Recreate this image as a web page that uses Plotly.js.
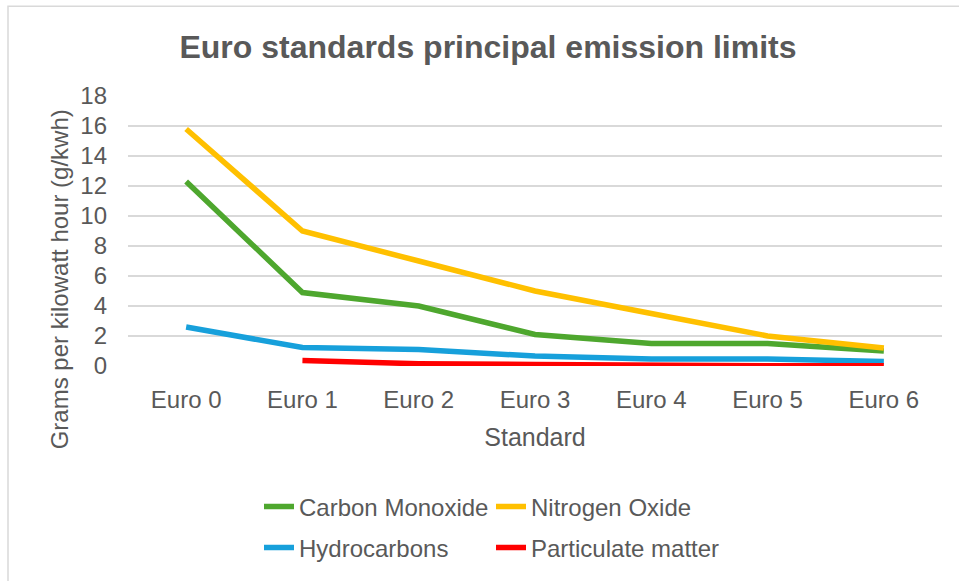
<!DOCTYPE html>
<html>
<head>
<meta charset="utf-8">
<script src="https://cdn.plot.ly/plotly-3.0.1.min.js"></script>
<style>
html,body{margin:0;padding:0;background:#fff;}
#chart{width:959px;height:581px;}
</style>
</head>
<body>
<div id="chart"></div>
<script>
const categories = ["Euro 0","Euro 1","Euro 2","Euro 3","Euro 4","Euro 5","Euro 6"];
const carbonMonoxide = [12.3, 4.9, 4.0, 2.1, 1.5, 1.5, 1.0];
const nitrogenOxide = [15.8, 9.0, 7.0, 5.0, 3.5, 2.0, 1.2];
const hydrocarbons = [2.6, 1.23, 1.1, 0.66, 0.46, 0.46, 0.3];
const particulateMatter = [null, 0.36, 0.15, 0.1, 0.02, 0.02, 0.01];
const yTicks = [0,2,4,6,8,10,12,14,16,18];

const fontFam = "Liberation Sans, Arial, sans-serif";
const textCol = "#595959";

function tr(name, y, color, legend){
  return {type:"scatter", mode:"lines", name:name, x:categories, y:y,
    line:{color:color, width:5.5, shape:"linear"}, legend:legend,
    connectgaps:false, hoverinfo:"skip"};
}
const data = [
  tr("Carbon Monoxide", carbonMonoxide, "#4ea72e", "legend"),
  tr("Nitrogen Oxide", nitrogenOxide, "#ffc000", "legend"),
  tr("Hydrocarbons", hydrocarbons, "#17a0db", "legend2"),
  tr("Particulate matter", particulateMatter, "#ff0000", "legend2")
];
const L = 128, R = 17, T = 96, B = 214;
const pw = 959 - L - R, ph = 581 - T - B;
function px(x){ return (x - L)/pw; }
function py(y){ return (581 - B - y)/ph; }

const fs = 24;
const legendCommon = {orientation:"h", font:{family:fontFam, size:fs, color:textCol},
  bgcolor:"rgba(0,0,0,0)", entrywidth:187, entrywidthmode:"pixels",
  xanchor:"left", yanchor:"middle", itemwidth:30};

const layout = {
  width:959, height:581,
  margin:{l:L, r:R, t:T, b:B},
  paper_bgcolor:"#fff", plot_bgcolor:"#fff",
  font:{family:fontFam, color:textCol},
  title:{text:"<b>Euro standards principal emission limits</b>", font:{family:fontFam, size:32, color:textCol},
    x:488/959, xanchor:"center", xref:"container", y:1-47/581, yanchor:"middle"},
  xaxis:{type:"category", range:[-0.5,6.5], showgrid:false, zeroline:false, showline:false,
    ticks:"", tickfont:{family:fontFam, size:fs, color:textCol}, ticklabelstandoff:17,
    title:{text:"Standard", font:{family:fontFam, size:25, color:textCol}, standoff:16}},
  yaxis:{range:[0,18], tickvals:yTicks, ticktext:yTicks.map(String), showgrid:true,
    gridcolor:"#d9d9d9", gridwidth:1.5, zeroline:false, showline:false, ticks:"",
    tickfont:{family:fontFam, size:fs, color:textCol}, ticklabelstandoff:20},
  legend:Object.assign({}, legendCommon, {x:px(259), y:py(507)}),
  legend2:Object.assign({}, legendCommon, {x:px(259), y:py(548)}),
  annotations:[{text:"Grams per kilowatt hour (g/kwh)", textangle:-90, xref:"paper", yref:"paper",
    x:px(59), y:py(280), xanchor:"center", yanchor:"middle", showarrow:false,
    font:{family:fontFam, size:fs, color:textCol}}],
  shapes:[{type:"rect", xref:"paper", yref:"paper", x0:px(8), x1:px(975), y0:py(600), y1:py(6),
    line:{color:"#d9d9d9", width:1.5}, fillcolor:"rgba(0,0,0,0)", layer:"below"}],
  showlegend:true
};
Plotly.newPlot("chart", data, layout, {displayModeBar:false, staticPlot:true});
</script>
</body>
</html>
